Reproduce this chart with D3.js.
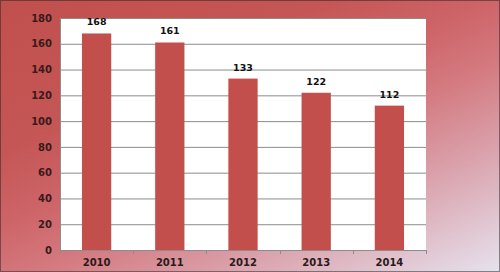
<!DOCTYPE html>
<html>
<head>
<meta charset="utf-8">
<script src="https://cdn.jsdelivr.net/npm/d3@7"></script>
<style>
  body { margin: 0; padding: 0; }
  svg { display: block; font-family: "DejaVu Sans", sans-serif; }
</style>
</head>
<body>
<div id="chart"></div>
<script>
// chart data
let years = ['2010', '2011', '2012', '2013', '2014'];
let counts = [168, 161, 133, 122, 112];
let yTicks = [0, 20, 40, 60, 80, 100, 120, 140, 160, 180];

let svgWidth = 500;
let svgHeight = 272;

// plot area borders
let margin = { top: 18, right: 74, bottom: 22, left: 60 };
let width = svgWidth - margin.left - margin.right;
let height = svgHeight - margin.top - margin.bottom;

let svg = d3.select('#chart').append('svg')
  .attr('width', svgWidth)
  .attr('height', svgHeight);

// background gradient (diagonal, mostly vertical)
let defs = svg.append('defs');
let grad = defs.append('linearGradient')
  .attr('id', 'bg')
  .attr('gradientUnits', 'userSpaceOnUse')
  .attr('x1', 0).attr('y1', 0)
  .attr('x2', 190).attr('y2', 414);
grad.append('stop').attr('offset', '0').attr('stop-color', '#c0504d');
grad.append('stop').attr('offset', '0.3').attr('stop-color', '#c45655');
grad.append('stop').attr('offset', '0.45').attr('stop-color', '#cd6468');
grad.append('stop').attr('offset', '0.58').attr('stop-color', '#d47a80');
grad.append('stop').attr('offset', '0.75').attr('stop-color', '#daa2ac');
grad.append('stop').attr('offset', '1').attr('stop-color', '#e6e2ee');

svg.append('rect')
  .attr('width', svgWidth)
  .attr('height', svgHeight)
  .attr('fill', 'url(#bg)');

// dotted frame
svg.append('rect')
  .attr('x', 0.5).attr('y', 0.5)
  .attr('width', svgWidth - 1).attr('height', svgHeight - 1)
  .attr('fill', 'none')
  .attr('stroke', '#222')
  .attr('stroke-dasharray', '1,1');

let chartGroup = svg.append('g')
  .attr('transform', `translate(${margin.left}, ${margin.top})`);

// plot area
chartGroup.append('rect')
  .attr('width', width)
  .attr('height', height)
  .attr('fill', '#ffffff');

// scales
let xScale = d3.scaleBand()
  .domain(years)
  .range([0, width])
  .paddingInner(0.6)
  .paddingOuter(0.3);

let yScale = d3.scaleLinear()
  .domain([0, 180])
  .range([height, 0]);

// gridlines
chartGroup.selectAll('.grid')
  .data(yTicks.filter(d => d > 0))
  .enter()
  .append('line')
  .attr('x1', 0)
  .attr('x2', width)
  .attr('y1', d => yScale(d) + 0.5)
  .attr('y2', d => yScale(d) + 0.5)
  .attr('stroke', '#8c8c8c')
  .attr('stroke-width', 1);

// bars
chartGroup.selectAll('.bar')
  .data(counts)
  .enter()
  .append('rect')
  .attr('x', (d, i) => xScale(years[i]))
  .attr('y', d => yScale(d))
  .attr('width', xScale.bandwidth())
  .attr('height', d => height - yScale(d))
  .attr('fill', '#c24f4c');

// value labels
chartGroup.selectAll('.val')
  .data(counts)
  .enter()
  .append('text')
  .attr('x', (d, i) => xScale(years[i]) + xScale.bandwidth() / 2)
  .attr('y', d => yScale(d) - 8)
  .attr('text-anchor', 'middle')
  .attr('font-size', '9.5px')
  .attr('font-weight', 'bold')
  .attr('fill', '#111')
  .text(d => d);

// y axis
let leftAxis = d3.axisLeft(yScale)
  .tickValues(yTicks)
  .tickSize(0)
  .tickPadding(8);

let yAxis = chartGroup.append('g').call(leftAxis);
yAxis.select('.domain').attr('stroke', '#8c8c8c');
yAxis.selectAll('text')
  .attr('font-size', '10px')
  .attr('font-weight', 'bold')
  .attr('fill', '#3a1a1a')
  .attr('font-family', '"DejaVu Sans", sans-serif');

// x axis
let bottomAxis = d3.axisBottom(xScale).tickSize(0).tickPadding(9);
let xAxis = chartGroup.append('g')
  .attr('transform', `translate(0, ${height})`)
  .call(bottomAxis);
xAxis.select('.domain').attr('stroke', '#8c8c8c');
xAxis.selectAll('text')
  .attr('font-size', '10px')
  .attr('font-weight', 'bold')
  .attr('fill', '#2a1a1a')
  .attr('font-family', '"DejaVu Sans", sans-serif');

// small ticks between categories
chartGroup.selectAll('.xtick')
  .data(d3.range(years.length + 1))
  .enter()
  .append('line')
  .attr('x1', i => Math.round(i * width / years.length) + 0.5)
  .attr('x2', i => Math.round(i * width / years.length) + 0.5)
  .attr('y1', height)
  .attr('y2', height + 4)
  .attr('stroke', '#8c8c8c');
</script>
</body>
</html>
